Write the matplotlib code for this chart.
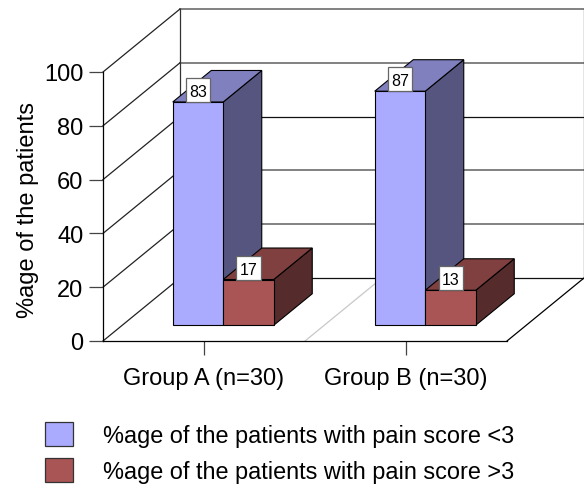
import matplotlib
matplotlib.use('Agg')
import matplotlib.pyplot as plt
from matplotlib.patches import Polygon, Rectangle, Patch

plt.rcParams['font.family'] = ['Liberation Sans', 'DejaVu Sans']

groups = ['Group A (n=30)', 'Group B (n=30)']
pain_below_3 = [83, 87]
pain_above_3 = [17, 13]
series_names = ['%age of the patients with pain score <3',
                '%age of the patients with pain score >3']
y_ticks = [0, 20, 40, 60, 80, 100]

# oblique projection: one unit of depth moves this far in x and y
DEPTH_X = 77 / 202
DEPTH_Y = 63 / 269 * 100
BLUE = ('#AAAAFF', '#8080BF', '#555580')
RED = ('#AA5555', '#804040', '#552B2B')
W, H = 584, 485


def proj(x, y, d):
    return (x + d * DEPTH_X, y + d * DEPTH_Y)


def draw_box(ax, x0, x1, top, colors, z):
    # side and top first, front face last
    d0, d1 = 0.25, 0.75
    side = [proj(x1, 0, d0), proj(x1, 0, d1), proj(x1, top, d1), proj(x1, top, d0)]
    cap = [proj(x0, top, d0), proj(x1, top, d0), proj(x1, top, d1), proj(x0, top, d1)]
    front = [proj(x0, 0, d0), proj(x1, 0, d0), proj(x1, top, d0), proj(x0, top, d0)]
    for pts, c in ((side, colors[2]), (cap, colors[1]), (front, colors[0])):
        ax.add_patch(Polygon(pts, closed=True, facecolor=c, edgecolor='black',
                             linewidth=0.8, zorder=z, clip_on=False))


def draw_label(ax, x, top, value):
    # white value tag resting on the top edge of the front face
    bx, by = proj(x, top, 0.25)
    tag_w, tag_h = 24 / 202, 24 / 269 * 100
    ax.add_patch(Rectangle((bx - tag_w / 2, by), tag_w, tag_h, facecolor='white',
                           edgecolor='#666666', linewidth=0.9, zorder=10, clip_on=False))
    ax.text(bx, by + tag_h / 2, str(value), ha='center', va='center_baseline',
            fontsize=11.5, color='black', zorder=11)


fig = plt.figure(figsize=(W / 100, H / 100), dpi=100)
ax = fig.add_axes([103 / W, (H - 342) / H, 404 / W, 269 / H])
ax.set_xlim(0, 2)
ax.set_ylim(0, 100)
ax.patch.set_visible(False)
for s in ('top', 'right'):
    ax.spines[s].set_visible(False)
for s in ('left', 'bottom'):
    ax.spines[s].set_linewidth(0.9)

# back wall, side wall and floor
for v in y_ticks:
    dark = v in (0, 60)
    ax.plot([proj(0, v, 1)[0], proj(2, v, 1)[0]], [proj(0, v, 1)[1]] * 2,
            color='#111111' if dark else '#777777', lw=0.9 if dark else 1.3,
            clip_on=False, zorder=1)
    ax.plot([0, proj(0, v, 1)[0]], [v, proj(0, v, 1)[1]],
            color='#222222', lw=0.9, clip_on=False, zorder=1)
for x in (0, 2):
    ax.plot([proj(x, 0, 1)[0]] * 2, [proj(x, 0, 1)[1], proj(x, 100, 1)[1]],
            color='#333333', lw=0.9, clip_on=False, zorder=1)
ax.plot([2, proj(2, 0, 1)[0]], [0, proj(2, 0, 1)[1]], color='black', lw=0.9,
        clip_on=False, zorder=1)
ax.plot([1, proj(1, 0, 1)[0]], [0, proj(1, 0, 1)[1]], color='#C8C8C8', lw=0.9,
        clip_on=False, zorder=1)

for i in range(len(groups)):
    draw_box(ax, i + 0.25, i + 0.5, pain_below_3[i], BLUE, 3 + i)
    draw_box(ax, i + 0.5, i + 0.75, pain_above_3[i], RED, 3.5 + i)
    draw_label(ax, i + 0.375, pain_below_3[i], pain_below_3[i])
    draw_label(ax, i + 0.625, pain_above_3[i], pain_above_3[i])

ax.set_xticks([0.5, 1.5], groups)
ax.set_yticks(y_ticks)
ax.tick_params(axis='x', length=10, width=0.9, color='#444444', labelsize=17, pad=9)
ax.tick_params(axis='y', length=10, width=0.9, color='#444444', labelsize=17, pad=4)
ax.set_ylabel('%age of the patients', fontsize=17, labelpad=4, y=0.49)

handles = [Patch(facecolor=BLUE[0], edgecolor='#333333', linewidth=0.9),
           Patch(facecolor=RED[0], edgecolor='#333333', linewidth=0.9)]
fig.legend(handles, series_names, loc='lower left', bbox_to_anchor=(45 / W, 1 / H),
           frameon=False, fontsize=16.9, handlelength=1.2, handleheight=1.2,
           handletextpad=1.27, labelspacing=0.46, borderpad=0, borderaxespad=0)

fig.savefig('out.png', dpi=100)
